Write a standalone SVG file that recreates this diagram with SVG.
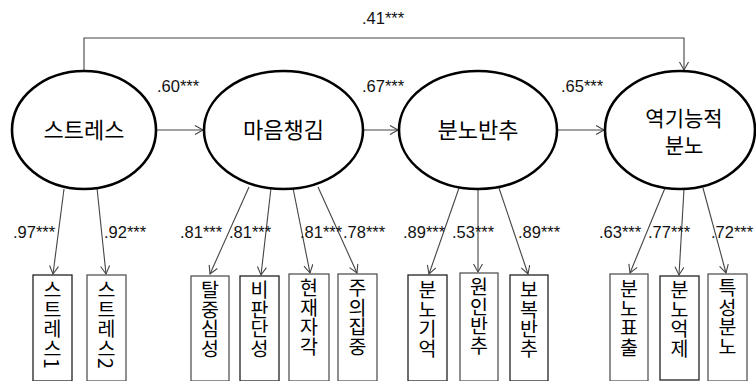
<svg xmlns="http://www.w3.org/2000/svg" width="756" height="381" viewBox="0 0 756 381">
<style>
.lat{fill:#fff;stroke:#000;stroke-width:2.6}
.lt{font-family:"Noto Sans CJK KR","Liberation Sans",sans-serif;font-size:22px;fill:#000;text-anchor:middle}
.lt2{font-family:"Noto Sans CJK KR","Liberation Sans",sans-serif;font-size:21px;fill:#000;text-anchor:middle}
.box{fill:#fff;stroke:#222;stroke-width:1.3}
.box2{fill:#fff;stroke:#555;stroke-width:1.3}
.vt{font-family:"Noto Sans CJK KR","Liberation Sans",sans-serif;font-size:19.5px;fill:#000;writing-mode:vertical-rl;text-orientation:mixed}
.num{font-family:"Liberation Sans","Noto Sans CJK KR",sans-serif;font-size:16.5px;fill:#111}
.ln{fill:none;stroke:#444;stroke-width:1.1;marker-end:url(#ah)}
</style>
<defs>
<marker id="ah" markerUnits="userSpaceOnUse" markerWidth="12" markerHeight="12" refX="9" refY="5" orient="auto">
<path d="M1,0.5 L9,5 L1,9.5" fill="none" stroke="#444" stroke-width="1.1"/>
</marker>
</defs>
<rect width="756" height="381" fill="#fff"/>
<g id="connectors">
<path class="ln" d="M84,71 V38 H684 V70"/>
<path class="ln" d="M156,130 H203"/>
<path class="ln" d="M363,130 H398"/>
<path class="ln" d="M557,130 H604"/>
<path class="ln" d="M64,189 L53,274"/>
<path class="ln" d="M97,188 L106,274"/>
<path class="ln" d="M249,187 L210,274"/>
<path class="ln" d="M271,188 L261,275"/>
<path class="ln" d="M293,188 L310,273"/>
<path class="ln" d="M318,187 L357,273"/>
<path class="ln" d="M459,188 L429,274"/>
<path class="ln" d="M478,190 L478,272"/>
<path class="ln" d="M499,188 L528,274"/>
<path class="ln" d="M665,188 L630,273"/>
<path class="ln" d="M684,189 L679,275"/>
<path class="ln" d="M703,188 L726,273"/>
</g>
<g id="labels">
<text class="num" x="362" y="24">.41***</text>
<text class="num" x="157" y="92">.60***</text>
<text class="num" x="362" y="92">.67***</text>
<text class="num" x="561" y="92">.65***</text>
<text class="num" x="13" y="238">.97***</text>
<text class="num" x="104" y="238">.92***</text>
<text class="num" x="180" y="238">.81***</text>
<text class="num" x="229" y="238">.81***</text>
<text class="num" x="300" y="238">.81***</text>
<text class="num" x="343" y="238">.78***</text>
<text class="num" x="403" y="238">.89***</text>
<text class="num" x="452" y="238">.53***</text>
<text class="num" x="518" y="238">.89***</text>
<text class="num" x="599" y="238">.63***</text>
<text class="num" x="648" y="238">.77***</text>
<text class="num" x="711" y="238">.72***</text>
</g>
<g id="stress"><ellipse class="lat" cx="84" cy="130" rx="72" ry="59"/><text class="lt" x="84" y="138">스트레스</text></g>
<g id="mindfulness"><ellipse class="lat" cx="283.5" cy="130" rx="79.5" ry="59"/><text class="lt" x="283.5" y="138">마음챙김</text></g>
<g id="rumination"><ellipse class="lat" cx="478" cy="130" rx="79" ry="59"/><text class="lt" x="478" y="138">분노반추</text></g>
<g id="dysfunctional"><ellipse class="lat" cx="680" cy="130" rx="75" ry="59"/><text class="lt2" x="684" y="126">역기능적</text><text class="lt2" x="684" y="153">분노</text></g>
<g id="s1"><rect class="box" x="33" y="275" width="39" height="106"/><text class="vt" x="52.5" y="280">스트레스1</text></g>
<g id="s2"><rect class="box2" x="87" y="275" width="39" height="106"/><text class="vt" x="106.5" y="280">스트레스2</text></g>
<g id="m1"><rect class="box2" x="191" y="276" width="38" height="105"/><text class="vt" x="210" y="280">탈중심성</text></g>
<g id="m2"><rect class="box" x="240" y="276" width="39" height="105"/><text class="vt" x="259.5" y="280">비판단성</text></g>
<g id="m3"><rect class="box2" x="289" y="274" width="40" height="107"/><text class="vt" x="309" y="278">현재자각</text></g>
<g id="m4"><rect class="box2" x="338" y="274" width="39" height="107"/><text class="vt" x="357.5" y="278">주의집중</text></g>
<g id="r1"><rect class="box" x="408" y="275" width="39" height="106"/><text class="vt" x="427.5" y="280">분노기억</text></g>
<g id="r2"><rect class="box2" x="460" y="273" width="38" height="108"/><text class="vt" x="479" y="277">원인반추</text></g>
<g id="r3"><rect class="box" x="510" y="275" width="38" height="106"/><text class="vt" x="529" y="280">보복반추</text></g>
<g id="a1"><rect class="box2" x="610" y="274" width="38" height="107"/><text class="vt" x="629" y="279">분노표출</text></g>
<g id="a2"><rect class="box" x="660" y="276" width="39" height="104"/><text class="vt" x="679.5" y="280">분노억제</text></g>
<g id="a3"><rect class="box2" x="708" y="274" width="39" height="107"/><text class="vt" x="727.5" y="278">특성분노</text></g>
</svg>
